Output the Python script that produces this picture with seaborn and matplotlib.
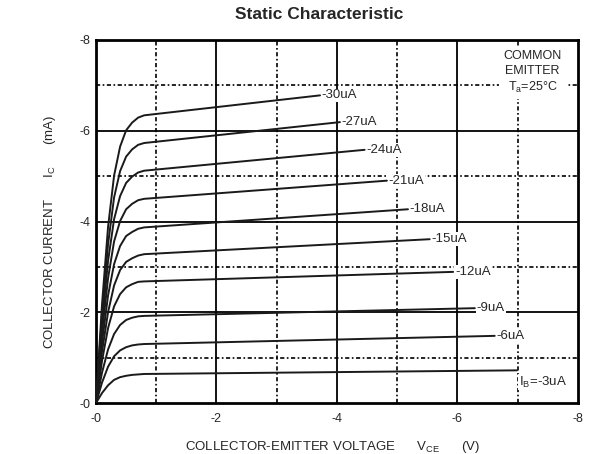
import matplotlib
matplotlib.use("Agg")
import matplotlib.pyplot as plt
import pandas as pd
import seaborn as sns

# PNP transistor static characteristic (magnitudes, plotted as negative V / mA)
base_currents = ["-30uA", "-27uA", "-24uA", "-21uA", "-18uA",
                 "-15uA", "-12uA", "-9uA", "-6uA", "I$_{\\rm B}$=-3uA"]

# knee region voltages shared by every curve, plus one end voltage per curve
knee_v = [0, 0.1, 0.2, 0.3, 0.4, 0.5, 0.6, 0.7, 0.8]
end_v = [3.72, 4.05, 4.46, 4.83, 5.18, 5.54, 5.93, 6.29, 6.62, 6.99]

# collector current (mA) at knee_v, then at end_v
ic_30 = [0, 2.18, 3.88, 5.01, 5.65, 6.01, 6.18, 6.29, 6.34, 6.78]
ic_27 = [0, 1.97, 3.50, 4.53, 5.11, 5.43, 5.59, 5.69, 5.73, 6.19]
ic_24 = [0, 1.76, 3.13, 4.05, 4.56, 4.85, 4.99, 5.08, 5.12, 5.58]
ic_21 = [0, 1.55, 2.75, 3.56, 4.01, 4.27, 4.39, 4.47, 4.50, 4.90]
ic_18 = [0, 1.33, 2.37, 3.06, 3.46, 3.68, 3.77, 3.84, 3.87, 4.27]
ic_15 = [0, 1.13, 2.00, 2.59, 2.93, 3.11, 3.19, 3.25, 3.28, 3.61]
ic_12 = [0, 0.93, 1.65, 2.13, 2.40, 2.55, 2.62, 2.67, 2.68, 2.89]
ic_9 = [0, 0.67, 1.18, 1.52, 1.72, 1.83, 1.88, 1.91, 1.92, 2.09]
ic_6 = [0, 0.45, 0.80, 1.03, 1.16, 1.23, 1.27, 1.29, 1.30, 1.48]
ic_3 = [0, 0.22, 0.39, 0.51, 0.57, 0.60, 0.62, 0.63, 0.64, 0.72]
curves = [ic_30, ic_27, ic_24, ic_21, ic_18, ic_15, ic_12, ic_9, ic_6, ic_3]

tick_vals = [0, 2, 4, 6, 8]
tick_labels = ["-0", "-2", "-4", "-6", "-8"]

rows = []
for name, ve, ic in zip(base_currents, end_v, curves):
    for v, i in zip(knee_v + [ve], ic):
        rows.append({"curve": name, "vce": -v, "ic": -i})
df = pd.DataFrame(rows)

sns.set_style("white")
plt.rcParams["font.family"] = ["Liberation Sans", "DejaVu Sans"]
plt.rcParams["mathtext.fontset"] = "custom"
plt.rcParams["mathtext.rm"] = "Liberation Sans"

fig = plt.figure(figsize=(5.89, 4.54), dpi=100)
ax = fig.add_axes([0.163, 0.1123, 0.818, 0.7996])

# grid: solid majors, dotted minors
for g in [2, 4, 6]:
    ax.axhline(-g, color="black", lw=1.3, zorder=1)
    ax.axvline(-g, color="black", lw=1.3, zorder=1)
for g in [1, 3, 5, 7]:
    ax.axhline(-g, color="black", lw=1.2, ls=(0, (2.5, 1.5, 1, 1.5)), zorder=1)
    ax.axvline(-g, color="black", lw=1.2, ls=(0, (2.5, 1.5, 1, 1.5)), zorder=1)

sns.lineplot(data=df, x="vce", y="ic", units="curve", estimator=None,
             color="#1a1a1a", lw=1.4, sort=False, ax=ax, zorder=3)

# curve labels at the end of each line
for name, ve, ic in zip(base_currents, end_v, curves):
    dy = 0.0
    if name.startswith("I"):
        dy = -0.26
    ax.text(-ve - 0.03, -ic[-1] - dy, name, fontsize=9.5, ha="left", va="center",
            zorder=4, bbox=dict(facecolor="white", edgecolor="none", pad=0.6))

ax.text(-7.25, -7.78, "COMMON\nEMITTER\nT$_{\\rm a}$=25°C", fontsize=9,
        ha="center", va="top", linespacing=1.3, zorder=4,
        bbox=dict(facecolor="white", edgecolor="none", pad=3))

ax.set_xlim(0, -8)
ax.set_ylim(0, -8)
ax.set_xticks([-t for t in tick_vals])
ax.set_xticklabels(tick_labels)
ax.set_yticks([-t for t in tick_vals])
ax.set_yticklabels(tick_labels)
ax.tick_params(axis="both", length=0, labelsize=9)
ax.tick_params(axis="x", pad=7)
ax.tick_params(axis="y", pad=4)
for sp in ax.spines.values():
    sp.set_linewidth(2)
    sp.set_color("black")

ax.set_xlabel("COLLECTOR-EMITTER VOLTAGE      V$_{\\rm CE}$      (V)", fontsize=9.5)
ax.set_ylabel("COLLECTOR CURRENT      I$_{\\rm C}$      (mA)", fontsize=9.5)
ax.xaxis.set_label_coords(0.49, -0.1)
ax.yaxis.set_label_coords(-0.079, 0.472)

fig.text(0.542, 0.967, "Static Characteristic", fontsize=12.5, fontweight="bold",
         ha="center", va="center")

fig.savefig("out.png", dpi=100)
